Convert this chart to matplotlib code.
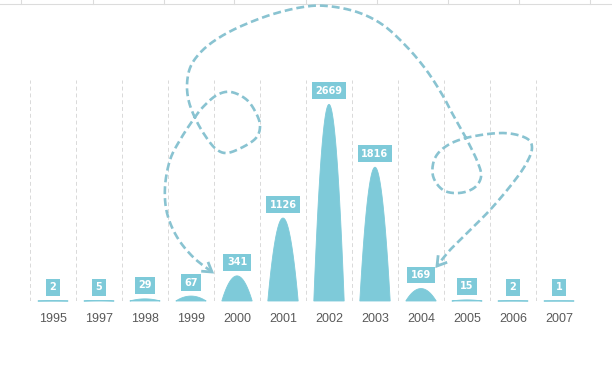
import numpy as np
import matplotlib
matplotlib.use("Agg")
import matplotlib.pyplot as plt

# ---- data ----
years = ["1995", "1997", "1998", "1999", "2000", "2001", "2002",
         "2003", "2004", "2005", "2006", "2007"]
values = [2, 5, 29, 67, 341, 1126, 2669, 1816, 169, 15, 2, 1]

BAR = "#7ecad9"
CURVE = "#89c3d1"
GRID = "#d9d9d9"

W, H = 612, 368
fig = plt.figure(figsize=(W / 100, H / 100), dpi=100)
fig.patch.set_facecolor("white")

ax = fig.add_axes([30 / W, (H - 301) / H, 552 / W, 221 / H])
ax.set_xlim(-0.5, len(years) - 0.5)
ax.set_ylim(0, 3000)
for s in ax.spines.values():
    s.set_visible(False)
ax.set_yticks([])
ax.set_xticks(range(len(years)))
ax.set_xticklabels(years, family="Liberation Sans", fontsize=9, color="#595959")
ax.tick_params(axis="x", length=0, pad=8.5)

# dashed category separators
for b in np.arange(-0.5, len(years), 1.0):
    ax.axvline(b, color=GRID, lw=0.7, ls=(0, (4, 3)), zorder=0)

# spike (parabolic) bars
half = 0.33
t = np.linspace(-1, 1, 81)
for i, v in enumerate(values):
    xs = i + t * half
    ys = v * (1 - t ** 2)
    ax.fill(xs, ys, color=BAR, lw=0.6, ec=BAR, zorder=2, clip_on=False)
    ax.annotate(str(v), xy=(i, v), xytext=(0, 13.5), textcoords="offset pixels",
                ha="center", va="center", color="white", fontsize=7,
                fontweight="bold", family="DejaVu Sans", zorder=4,
                bbox=dict(boxstyle="square,pad=0.35", fc=BAR, ec="none"))

# ---- decorative overlay (pixel coordinates) ----
ov = fig.add_axes([0, 0, 1, 1], facecolor="none")
ov.set_xlim(0, W)
ov.set_ylim(H, 0)
ov.axis("off")

# faint spreadsheet frame at top
ov.plot([0, W], [4, 4], color="#dcdcdc", lw=0.8)
for xv in [21, 93, 164, 234, 306, 377, 448, 519, 590]:
    ov.plot([xv, xv], [0, 4], color="#dcdcdc", lw=0.8)

pts = np.array([
    (212, 272), (193, 257), (177, 237), (167, 213), (165, 187), (170, 160),
    (180, 140), (193, 120), (203, 107), (217, 95), (231, 92), (247, 100),
    (257, 115), (260, 127), (256, 138), (243, 147), (227, 153), (216, 149),
    (206, 137), (196, 120), (189, 102), (187, 85), (190, 68), (199, 54),
    (214, 41), (237, 28), (270, 15), (303, 7), (327, 6), (357, 12),
    (383, 25), (407, 47), (427, 71), (443, 96), (452, 113), (467, 140),
    (478, 163), (481, 177), (474, 188), (459, 193), (443, 190), (433, 176),
    (435, 158), (448, 145), (470, 137), (503, 133), (526, 138), (532, 148),
    (526, 164), (512, 184), (490, 210), (467, 233), (450, 250), (437, 266),
], dtype=float)


def catmull(p, n=12):
    p = np.vstack([p[0], p, p[-1]])
    out = []
    for k in range(1, len(p) - 2):
        p0, p1, p2, p3 = p[k - 1], p[k], p[k + 1], p[k + 2]
        for s in np.linspace(0, 1, n, endpoint=False):
            s2, s3 = s * s, s * s * s
            out.append(0.5 * ((2 * p1) + (-p0 + p2) * s +
                              (2 * p0 - 5 * p1 + 4 * p2 - p3) * s2 +
                              (-p0 + 3 * p1 - 3 * p2 + p3) * s3))
    out.append(p[-2])
    return np.array(out)


c = catmull(pts)
ov.plot(c[:, 0], c[:, 1], color=CURVE, lw=1.9, ls=(0, (3.0, 1.5)),
        solid_capstyle="butt", dash_capstyle="butt")

for tip, prev in [(c[0], c[4]), (c[-1], c[-5])]:
    d = tip - prev
    d = d / np.hypot(*d)
    nrm = np.array([-d[1], d[0]])
    L, Wd = 8, 5
    a = tip - d * L + nrm * Wd
    b = tip - d * L - nrm * Wd
    ov.plot([a[0], tip[0], b[0]], [a[1], tip[1], b[1]], color=CURVE, lw=2.0,
            solid_joinstyle="miter")

fig.savefig("out.png", dpi=100)
